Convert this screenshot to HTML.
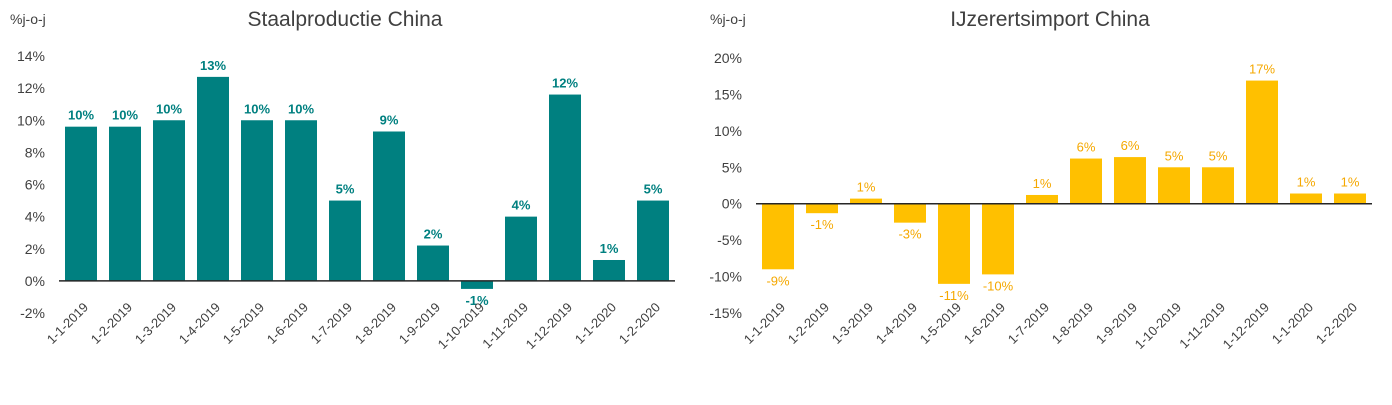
<!DOCTYPE html>
<html><head><meta charset="utf-8"><style>
body{margin:0;background:#fff;font-family:"Liberation Sans",Arial,sans-serif;}
svg text{font-family:"Liberation Sans",Arial,sans-serif;}
</style></head><body>
<svg id="c" width="1392" height="400"></svg>
<script>
const categories=["1-1-2019","1-2-2019","1-3-2019","1-4-2019","1-5-2019","1-6-2019","1-7-2019","1-8-2019","1-9-2019","1-10-2019","1-11-2019","1-12-2019","1-1-2020","1-2-2020"];
const steelValues=[9.6,9.6,10.0,12.7,10.0,10.0,5.0,9.3,2.2,-0.5,4.0,11.6,1.3,5.0];
const steelLabels=["10%","10%","10%","13%","10%","10%","5%","9%","2%","-1%","4%","12%","1%","5%"];
const steelTicks=[-2,0,2,4,6,8,10,12,14];
const oreValues=[-9.0,-1.3,0.7,-2.6,-11.0,-9.7,1.2,6.2,6.4,5.0,5.0,16.9,1.4,1.4];
const oreLabels=["-9%","-1%","1%","-3%","-11%","-10%","1%","6%","6%","5%","5%","17%","1%","1%"];
const oreTicks=[-15,-10,-5,0,5,10,15,20];
const NS="http://www.w3.org/2000/svg";
const svg=document.getElementById('c');
function mk(tag,attrs,txt){const e=document.createElementNS(NS,tag);for(const k in attrs)e.setAttribute(k,attrs[k]);if(txt!==undefined)e.textContent=txt;svg.appendChild(e);return e;}
function chart(o){
  const y=v=>o.y0+(v-o.vmin)/(o.vmax-o.vmin)*(o.y1-o.y0);
  const x=i=>o.x0+i*o.step;
  const t=mk('text',{x:o.titleX,y:26,'font-size':21,fill:'#404040','text-anchor':'middle'},o.title);
  
  
  const u=mk('text',{x:o.unitX,y:24,'font-size':14,fill:'#404040'},'%j-o-j');
  
  
  o.ticks.forEach(v=>{
    const tl=mk('text',{x:o.tickX,y:y(v)+5,'font-size':14,fill:'#404040','text-anchor':'end'},v+'%');
    
    
  });
  o.values.forEach((v,i)=>{
    const cx=x(i),top=y(Math.max(v,0)),h=Math.abs(y(v)-y(0));
    const r=mk('rect',{x:cx-16,y:top,width:32,height:Math.max(h,0.5),fill:o.color});
    
    
    const ly=v>=0?y(v)-7:y(v)+16;
    const l=mk('text',{x:cx,y:ly,'font-size':13,fill:o.labelColor,'text-anchor':'middle','font-weight':o.bold?'bold':'normal'},o.labels[i]);
    
    
    const c=mk('text',{x:0,y:0,'font-size':13,fill:'#404040','text-anchor':'end',transform:`translate(${cx+8},${o.catY}) rotate(-45)`},categories[i]);
    
    
  });
  const ax=mk('line',{x1:o.x0-22,x2:x(o.values.length-1)+22,y1:y(0),y2:y(0),stroke:'#262626','stroke-width':1.5});
  
  
}
chart({id:'steel',title:'Staalproductie China',titleX:345,unitX:10,tickX:45,x0:81,step:44,y0:313,y1:56,vmin:-2,vmax:14,ticks:steelTicks,values:steelValues,labels:steelLabels,color:'#008080',labelColor:'#008080',bold:true,catY:308});
chart({id:'ore',title:'IJzerertsimport China',titleX:1050,unitX:710,tickX:742,x0:778,step:44,y0:313,y1:58,vmin:-15,vmax:20,ticks:oreTicks,values:oreValues,labels:oreLabels,color:'#FFC000',labelColor:'#F5A800',bold:false,catY:308});
</script>
</body></html>
